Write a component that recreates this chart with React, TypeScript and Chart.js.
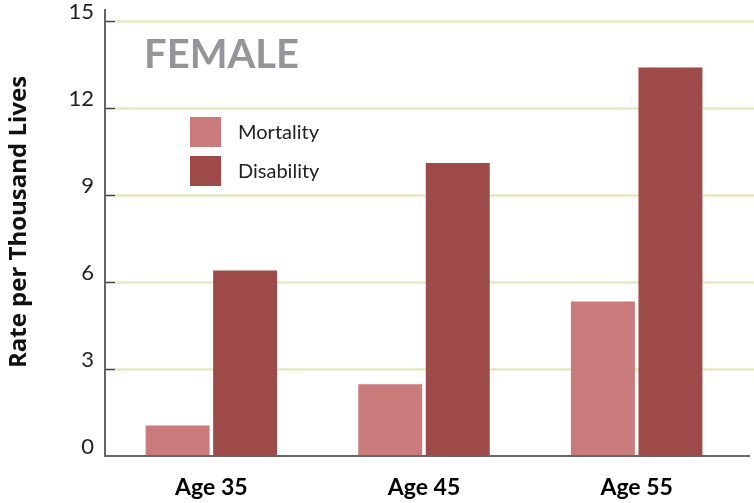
import React, { useEffect, useRef } from "react";
import { Chart, registerables } from "chart.js";

Chart.register(...registerables);

const categories = ["Age 35", "Age 45", "Age 55"];
const mortality = [1.05, 2.47, 5.33];
const disability = [6.4, 10.1, 13.4];
const seriesNames = ["Mortality", "Disability"];
const yTicks = [0, 3, 6, 9, 12, 15];
const panelTitle = "FEMALE";
const yTitle = "Rate per Thousand Lives";

const COLORS = ["#C97B7C", "#9E4A48"];

const decor = {
  id: "decor",
  beforeDatasetsDraw(chart: any) {
    const { ctx, chartArea, scales } = chart;
    const y = scales.y;
    ctx.save();
    y.ticks.forEach((t: any) => {
      if (t.value === 0) return;
      const py = Math.round(y.getPixelForValue(t.value)) + 0.5;
      ctx.strokeStyle = "#E6E8C2";
      ctx.lineWidth = 2.5;
      ctx.beginPath();
      ctx.moveTo(chartArea.left + 10, py);
      ctx.lineTo(chart.width, py);
      ctx.stroke();
      ctx.strokeStyle = "#444";
      ctx.lineWidth = 1.5;
      ctx.beginPath();
      ctx.moveTo(chartArea.left, py);
      ctx.lineTo(chartArea.left + 10, py);
      ctx.stroke();
    });
    ctx.restore();
  },
  afterDatasetsDraw(chart: any) {
    const { ctx, chartArea } = chart;
    ctx.save();
    // axes
    ctx.strokeStyle = "#666";
    ctx.lineWidth = 2;
    ctx.beginPath();
    ctx.moveTo(chartArea.left, chartArea.top - 12);
    ctx.lineTo(chartArea.left, chartArea.bottom);
    ctx.lineTo(chart.width - 4, chartArea.bottom);
    ctx.stroke();

    // panel title
    ctx.fillStyle = "#939598";
    ctx.font = "bold 40px Lato";
    ctx.textAlign = "left";
    ctx.textBaseline = "alphabetic";
    ctx.fillText(panelTitle, 144, 68);

    // legend
    chart.data.datasets.forEach((ds: any, i: number) => {
      const bx = 190;
      const by = 117 + i * 39;
      ctx.fillStyle = ds.backgroundColor;
      ctx.fillRect(bx, by, 31, 30);
      ctx.fillStyle = "#222";
      ctx.font = "20px Lato";
      ctx.textBaseline = "middle";
      ctx.fillText(ds.label, bx + 48, by + 16);
    });

    // y title
    ctx.translate(19, 222);
    ctx.rotate(-Math.PI / 2);
    ctx.fillStyle = "#111";
    ctx.font = "bold 24px 'Open Sans'";
    ctx.textAlign = "center";
    ctx.textBaseline = "middle";
    ctx.fillText(yTitle, 0, 0);
    ctx.restore();
  },
};

export default function App() {
  const ref = useRef<HTMLCanvasElement | null>(null);
  useEffect(() => {
    if (!ref.current) return;
    const chart = new Chart(ref.current, {
      type: "bar",
      data: {
        labels: categories,
        datasets: [
          {
            label: seriesNames[0],
            data: mortality,
            backgroundColor: COLORS[0],
            categoryPercentage: 0.635,
            barPercentage: 0.947,
          },
          {
            label: seriesNames[1],
            data: disability,
            backgroundColor: COLORS[1],
            categoryPercentage: 0.635,
            barPercentage: 0.947,
          },
        ],
      },
      options: {
        animation: false,
        responsive: false,
        devicePixelRatio: 1,
        layout: { padding: { top: 21, right: 11, left: 0, bottom: 0 } },
        plugins: {
          legend: { display: false },
          tooltip: { enabled: false },
          title: { display: false },
        },
        scales: {
          x: {
            grid: { display: false, drawTicks: false },
            border: { display: false },
            ticks: {
              color: "#000",
              font: { family: "Lato", size: 23, weight: "bold" },
              padding: 18,
            },
            afterFit: (s: any) => {
              s.height = 47;
              s.paddingLeft = 0;
              s.paddingRight = 0;
            },
          },
          y: {
            min: 0,
            max: 15,
            afterBuildTicks: (s: any) => {
              s.ticks = yTicks.map((v) => ({ value: v }));
            },
            grid: { display: false, drawTicks: false },
            border: { display: false },
            ticks: {
              color: "#231F20",
              font: { family: "Lato", size: 22 },
              padding: 11,
              labelOffset: -9,
            },
            afterFit: (s: any) => {
              s.width = 105;
              s.paddingTop = 0;
              s.paddingBottom = 0;
            },
          },
        },
      },
      plugins: [decor],
    });
    return () => chart.destroy();
  }, []);
  return (
    <div style={{ position: "fixed", left: 0, top: 0, width: 754, height: 503, background: "#fff" }}>
      <canvas ref={ref} width={754} height={503} />
    </div>
  );
}
